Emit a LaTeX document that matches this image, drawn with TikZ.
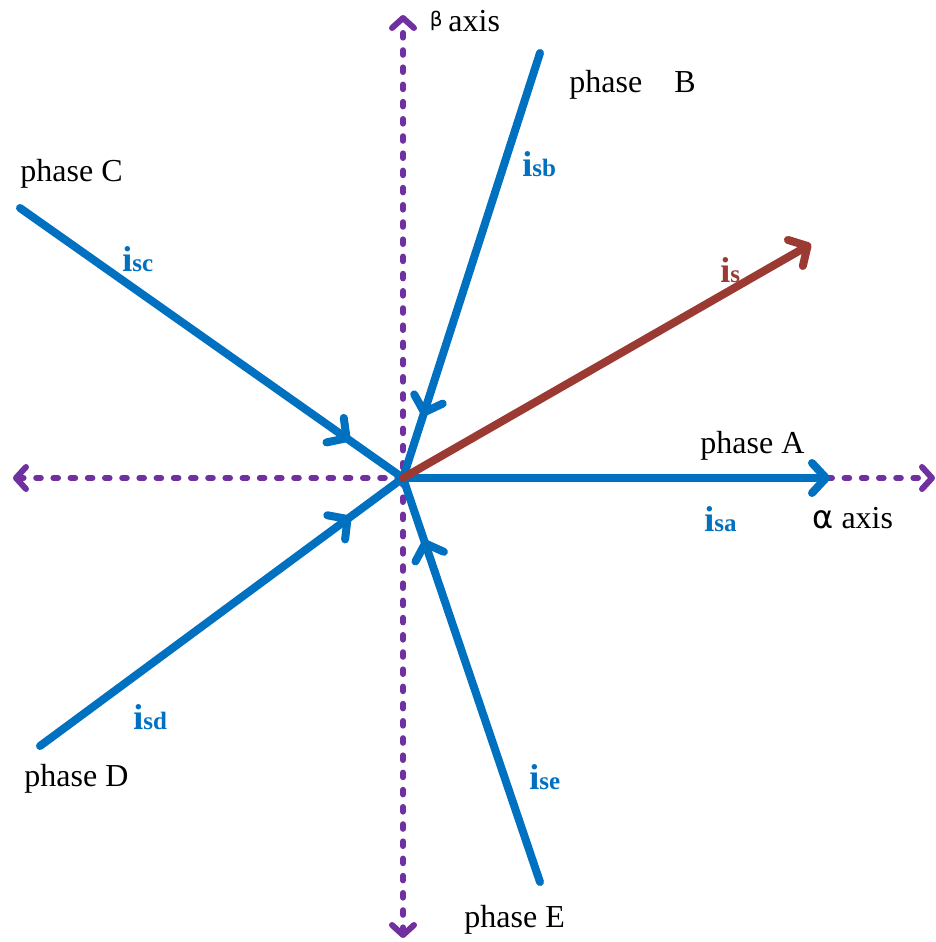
\documentclass[tikz,border=0pt]{standalone}
\usepackage{fontspec}
\setmainfont{Liberation Serif}
\newfontfamily\grkfont{DejaVu Sans}
\usetikzlibrary{arrows.meta,decorations.markings}
\definecolor{phblue}{HTML}{0070C0}
\definecolor{axpurple}{HTML}{7030A0}
\definecolor{isbrown}{HTML}{9B3A33}
\newcommand\curlab[2]{\textbf{\fontsize{18}{18}\selectfont #1\fontsize{12.5}{13}\selectfont #2}}
\begin{document}
\begin{tikzpicture}[x=0.5pt,y=-0.5pt,
  axisline/.style={axpurple, line width=3pt, line cap=round, dash pattern=on 2.3pt off 6.3pt,
    {Straight Barb[length=5pt,width=11pt,round]}-{Straight Barb[length=5pt,width=11pt,round]}},
  phaseline/.style={phblue, line width=4pt, line cap=round},
  midarrow/.style={postaction={decorate}, decoration={markings,
    mark=at position -32.5pt with {\arrow[phblue, line width=4pt]{Straight Barb[length=7pt,width=15pt,round]}}}},
  endarrow/.style={-{Straight Barb[length=7pt,width=15pt,round]}},
  lbl/.style={anchor=base west, inner sep=0pt, font=\fontsize{16}{19}\selectfont},
  cur/.style={anchor=base west, inner sep=0pt, text=phblue},
]
\useasboundingbox (0,0) rectangle (936,942);
% coordinates
\coordinate (O) at (403,478);
\coordinate (Aend) at (830,478);
\coordinate (Bend) at (540,53);
\coordinate (Cend) at (20,208);
\coordinate (Dend) at (40,746);
\coordinate (Eend) at (540,882);
\coordinate (Send) at (811,244);
\coordinate (axL) at (13,478);
\coordinate (axR) at (935,478);
\coordinate (axT) at (403,15);
\coordinate (axB) at (403,938);
% axes
\draw[axisline] (axL) -- (axR);
\draw[axisline] (axB) -- (axT);
% phases
\draw[phaseline, endarrow] (O) -- (Aend);
\draw[phaseline, midarrow] (Bend) -- (O);
\draw[phaseline, midarrow] (Cend) -- (O);
\draw[phaseline, midarrow] (Dend) -- (O);
\draw[phaseline, midarrow] (Eend) -- (O);
% current vector
\draw[isbrown, line width=4pt, line cap=round, endarrow] (O) -- (Send);
% labels
\node[lbl] (labA) at (700,453) {phase A};
\node[lbl] (labB) at (569,92) {phase\hspace{1em}B};
\node[lbl] (labC) at (20,181) {phase C};
\node[lbl] (labD) at (24,786) {phase D};
\node[lbl] (labE) at (464,927) {phase E};
\node[lbl] (alpha) at (812,528) {{\grkfont α} axis};
\node[lbl] (betaax) at (448,32) {axis};
\node[anchor=base east, inner sep=0pt, font=\grkfont\fontsize{10}{12}\selectfont] (beta) at (443,26) {β};
\node[cur] (isa) at (704,531) {\curlab{i}{sa}};
\node[cur] (isb) at (522,176) {\curlab{i}{sb}};
\node[cur] (isc) at (122,271) {\curlab{i}{sc}};
\node[cur] (isd) at (133,729) {\curlab{i}{sd}};
\node[cur] (ise) at (529,789) {\curlab{i}{se}};
\node[cur, text=isbrown] (is) at (720,282) {\curlab{i}{s}};
\end{tikzpicture}
\end{document}
